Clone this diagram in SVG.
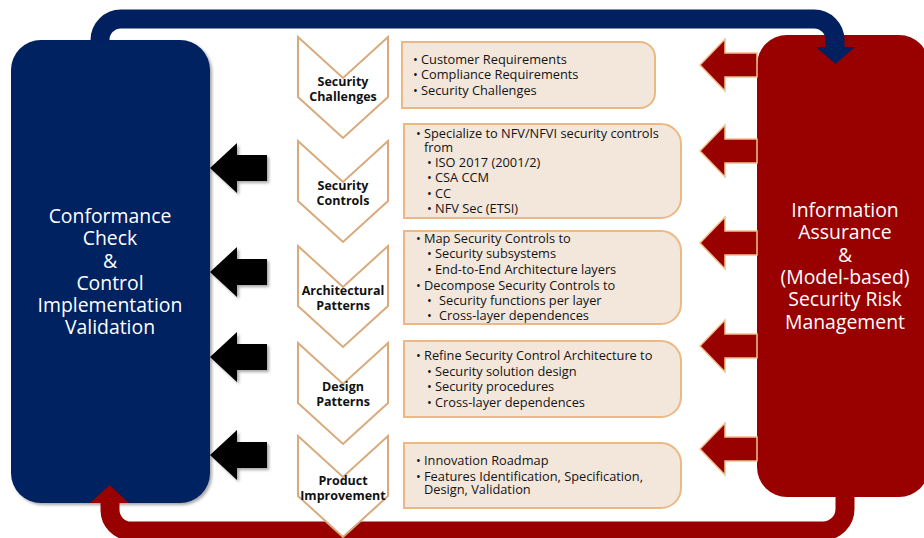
<svg xmlns="http://www.w3.org/2000/svg" width="924" height="538" viewBox="0 0 924 538">
<defs>
<style>
.chev{fill:#ffffff;stroke:#d9aa7c;stroke-width:2}
.box{fill:#f3e6db;stroke:#ecb883;stroke-width:2}
.cl{font-family:"Open Sans","Noto Sans",sans-serif;font-weight:700;font-size:12.5px;fill:#111;text-anchor:middle}
.bt{font-family:"Open Sans","Noto Sans",sans-serif;font-size:12.8px;fill:#141414}
.big{font-family:"Open Sans","Noto Sans",sans-serif;font-size:19.4px;fill:#ffffff;text-anchor:middle}
.blk{fill:#000000}
.red{fill:#990000;stroke:#f0c08a;stroke-width:1.5}
</style>
<filter id="sh" x="-20%" y="-20%" width="140%" height="140%">
<feDropShadow dx="2" dy="2" stdDeviation="1.5" flood-color="#000" flood-opacity="0.35"/>
</filter>
</defs>
<rect width="924" height="538" fill="#ffffff"/>

<g id="conformance">
<rect x="11" y="40" width="199" height="463" rx="30" fill="#022060" filter="url(#sh)"/>
<text class="big" x="110" y="223">Conformance</text>
<text class="big" x="110" y="245">Check</text>
<text class="big" x="110" y="268">&amp;</text>
<text class="big" x="110" y="290">Control</text>
<text class="big" x="110" y="312">Implementation</text>
<text class="big" x="110" y="334">Validation</text>
</g>

<g id="risk">
<rect x="757" y="35" width="172" height="462" rx="30" fill="#990000"/>
<text class="big" x="845" y="217">Information</text>
<text class="big" x="845" y="239">Assurance</text>
<text class="big" x="845" y="262">&amp;</text>
<text class="big" x="845" y="284">(Model-based)</text>
<text class="big" x="845" y="306">Security Risk</text>
<text class="big" x="845" y="329">Management</text>
</g>

<g id="connectors">
<path d="M100 42 V40 A21 21 0 0 1 121 19 H814 A21 21 0 0 1 835 40 V48" fill="none" stroke="#022060" stroke-width="19"/>
<polygon points="816,47 855,47 835.5,64" fill="#022060"/>
<path d="M845 495 V509 A22 22 0 0 1 823 531 H131 A21 21 0 0 1 110 510 V502" fill="none" stroke="#990000" stroke-width="19"/>
<polygon points="90,503 129,503 109.5,485" fill="#990000"/>
<g filter="url(#sh)">
<polygon class="blk" points="210,168 237,143 237,155 267,155 267,181 237,181 237,193"/>
<polygon class="blk" points="210,272 237,247 237,259 267,259 267,285 237,285 237,297"/>
<polygon class="blk" points="210,357 237,332 237,344 267,344 267,370 237,370 237,382"/>
<polygon class="blk" points="210,455 237,430 237,442 267,442 267,468 237,468 237,480"/>
</g>
<polygon class="red" points="700,65 725,39 725,53 757,53 757,77 725,77 725,91"/>
<polygon class="red" points="700,151 725,125 725,139 757,139 757,163 725,163 725,177"/>
<polygon class="red" points="700,243 725,217 725,231 757,231 757,255 725,255 725,269"/>
<polygon class="red" points="700,346 725,320 725,334 757,334 757,358 725,358 725,372"/>
<polygon class="red" points="700,449 725,423 725,437 757,437 757,461 725,461 725,475"/>
</g>

<g id="step-challenges">
<polygon class="chev" points="298,37 343,78 388,37 388,97 343,138 298,97"/>
<text class="cl" x="343" y="86">Security</text>
<text class="cl" x="343" y="100.5">Challenges</text>
</g>
<g id="step-controls">
<polygon class="chev" points="298,141 343,182 388,141 388,201 343,242 298,201"/>
<text class="cl" x="343" y="190">Security</text>
<text class="cl" x="343" y="204.5">Controls</text>
</g>
<g id="step-architectural">
<polygon class="chev" points="298,246 343,287 388,246 388,306 343,347 298,306"/>
<text class="cl" x="343" y="295">Architectural</text>
<text class="cl" x="343" y="309.5">Patterns</text>
</g>
<g id="step-design">
<polygon class="chev" points="298,343 343,384 388,343 388,403 343,444 298,403"/>
<text class="cl" x="343" y="391">Design</text>
<text class="cl" x="343" y="405.5">Patterns</text>
</g>
<g id="step-product">
<polygon class="chev" points="298,436 343,477 388,436 388,496 343,537 298,496"/>
<text class="cl" x="343" y="485">Product</text>
<text class="cl" x="343" y="499.5">Improvement</text>
</g>

<g id="box-challenges">
<path class="box" d="M402 42 H640 A15 15 0 0 1 655 57 V93 A15 15 0 0 1 640 108 H402 Z"/>
<text class="bt" x="413" y="63.5">•<tspan x="421">Customer Requirements</tspan></text>
<text class="bt" x="413" y="79">•<tspan x="421">Compliance Requirements</tspan></text>
<text class="bt" x="413" y="94.5">•<tspan x="421">Security Challenges</tspan></text>
</g>
<g id="box-controls">
<path class="box" d="M404 124 H661 A20 20 0 0 1 681 144 V198 A20 20 0 0 1 661 218 H404 Z"/>
<text class="bt" x="416" y="137.5">•<tspan x="424">Specialize to NFV/NFVI security controls</tspan></text>
<text class="bt" x="424" y="151.5">from</text>
<text class="bt" x="427" y="166.5">•<tspan x="435">ISO 2017 (2001/2)</tspan></text>
<text class="bt" x="427" y="181.5">•<tspan x="435">CSA CCM</tspan></text>
<text class="bt" x="427" y="197.5">•<tspan x="435">CC</tspan></text>
<text class="bt" x="427" y="213">•<tspan x="435">NFV Sec (ETSI)</tspan></text>
</g>
<g id="box-architectural">
<path class="box" d="M404 231 H661 A20 20 0 0 1 681 251 V304 A20 20 0 0 1 661 324 H404 Z"/>
<text class="bt" x="416" y="242.5">•<tspan x="424">Map Security Controls to</tspan></text>
<text class="bt" x="427" y="257.5">•<tspan x="435">Security subsystems</tspan></text>
<text class="bt" x="427" y="273.5">•<tspan x="435">End-to-End Architecture layers</tspan></text>
<text class="bt" x="416" y="289.5">•<tspan x="424">Decompose Security Controls to</tspan></text>
<text class="bt" x="427" y="304.5">•<tspan x="439">Security functions per layer</tspan></text>
<text class="bt" x="427" y="319.5">•<tspan x="439">Cross-layer dependences</tspan></text>
</g>
<g id="box-design">
<path class="box" d="M404 341 H661 A20 20 0 0 1 681 361 V397 A20 20 0 0 1 661 417 H404 Z"/>
<text class="bt" x="416" y="359.5">•<tspan x="424">Refine Security Control Architecture to</tspan></text>
<text class="bt" x="427" y="375.5">•<tspan x="435">Security solution design</tspan></text>
<text class="bt" x="427" y="390.5">•<tspan x="435">Security procedures</tspan></text>
<text class="bt" x="427" y="406.5">•<tspan x="435">Cross-layer dependences</tspan></text>
</g>
<g id="box-product">
<path class="box" d="M404 443 H661 A20 20 0 0 1 681 463 V488 A20 20 0 0 1 661 508 H404 Z"/>
<text class="bt" x="416" y="464.5">•<tspan x="424">Innovation Roadmap</tspan></text>
<text class="bt" x="416" y="480.5">•<tspan x="424">Features Identification, Specification,</tspan></text>
<text class="bt" x="424" y="494">Design, Validation</text>
</g>
</svg>
